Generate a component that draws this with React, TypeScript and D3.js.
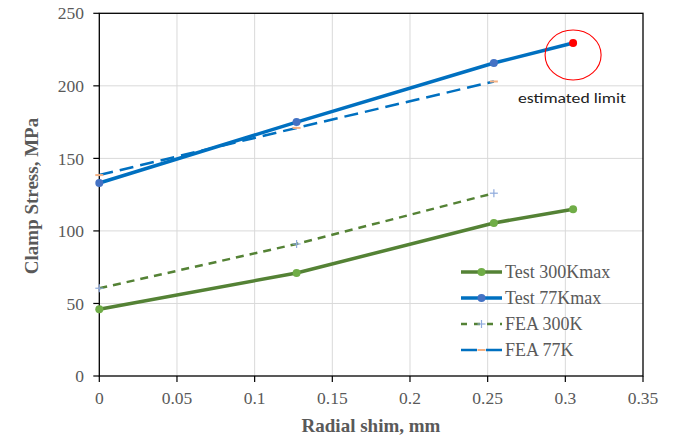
import React from "react";
import * as d3 from "d3";

const shimX = [0, 0.127, 0.254, 0.305];
const test300K = [46, 71, 105.5, 115];
const test77K = [133, 175, 215.7, 229.5];
const feaX = [0, 0.127, 0.254];
const fea300K = [60.5, 91, 126];
const fea77K = [138.5, 171, 203];
const xTicks = [0, 0.05, 0.1, 0.15, 0.2, 0.25, 0.3, 0.35];
const yTicks = [0, 50, 100, 150, 200, 250];
const legendLabels = ["Test 300Kmax", "Test 77Kmax", "FEA 300K", "FEA 77K"];

const W = 673, H = 440;
const L = 99.3, R = 643, T = 13.3, B = 376;
const serif = "'Liberation Serif', 'Times New Roman', serif";
const gray = "#595959";

export default function App() {
  const x = d3.scaleLinear().domain([0, 0.35]).range([L, R]);
  const y = d3.scaleLinear().domain([0, 250]).range([B, T]);
  const line = d3.line<[number, number]>().x(d => x(d[0])).y(d => y(d[1]));
  const pts = (xs: number[], ys: number[]) => xs.map((v, i) => [v, ys[i]] as [number, number]);

  const legendY = [272, 298, 324, 350];
  const lx0 = 461, lx1 = 502;

  return (
    <svg width={W} height={H} style={{ position: "absolute", left: 0, top: 0, background: "#fff" }}>
      {xTicks.slice(1, -1).map(t => (
        <line key={"gx" + t} x1={x(t)} x2={x(t)} y1={T} y2={B} stroke="#d9d9d9" strokeWidth={1} />
      ))}
      {yTicks.slice(1, -1).map(t => (
        <line key={"gy" + t} x1={L} x2={R} y1={y(t)} y2={y(t)} stroke="#d9d9d9" strokeWidth={1} />
      ))}
      <rect x={L} y={T} width={R - L} height={B - T} fill="none" stroke="#000" strokeWidth={1.3} />
      {yTicks.map(t => (
        <g key={"ty" + t}>
          <line x1={L - 6} x2={L} y1={y(t)} y2={y(t)} stroke="#000" strokeWidth={1.2} />
          <text x={84} y={y(t)} dy="0.35em" textAnchor="end" fontFamily={serif} fontSize={17.5} fill={gray}>{t}</text>
        </g>
      ))}
      {xTicks.map(t => (
        <g key={"tx" + t}>
          <line x1={x(t)} x2={x(t)} y1={B} y2={B + 6} stroke="#000" strokeWidth={1.2} />
          <text x={x(t)} y={404} textAnchor="middle" fontFamily={serif} fontSize={17.5} fill={gray}>{String(t)}</text>
        </g>
      ))}
      <text x={371} y={432} textAnchor="middle" fontFamily={serif} fontWeight="bold" fontSize={19} fill={gray}>Radial shim, mm</text>
      <text transform={`translate(38,196) rotate(-90)`} textAnchor="middle" fontFamily={serif} fontWeight="bold" fontSize={19} fill={gray}>Clamp Stress, MPa</text>

      <path d={line(pts(feaX, fea300K)) || ""} fill="none" stroke="#548235" strokeWidth={2.5} strokeDasharray="8,6" />
      <path d={line(pts(feaX, fea77K)) || ""} fill="none" stroke="#0070C0" strokeWidth={2.5} strokeDasharray="14,7" />
      <path d={line(pts(shimX, test300K)) || ""} fill="none" stroke="#548235" strokeWidth={3.5} />
      <path d={line(pts(shimX, test77K)) || ""} fill="none" stroke="#0070C0" strokeWidth={3.5} />
      {pts(feaX, fea300K).map((d, i) => (
        <g key={"p3" + i} stroke="#8FAADC" strokeWidth={1.2}>
          <line x1={x(d[0]) - 4} x2={x(d[0]) + 4} y1={y(d[1])} y2={y(d[1])} />
          <line x1={x(d[0])} x2={x(d[0])} y1={y(d[1]) - 4} y2={y(d[1]) + 4} />
        </g>
      ))}
      {pts(feaX, fea77K).map((d, i) => (
        <line key={"p7" + i} x1={x(d[0]) - 4} x2={x(d[0]) + 4} y1={y(d[1])} y2={y(d[1])} stroke="#F4B183" strokeWidth={2} />
      ))}
      {pts(shimX, test300K).map((d, i) => (
        <circle key={"t3" + i} cx={x(d[0])} cy={y(d[1])} r={4} fill="#70AD47" />
      ))}
      {pts(shimX, test77K).map((d, i) => (
        <circle key={"t7" + i} cx={x(d[0])} cy={y(d[1])} r={4} fill={i === shimX.length - 1 ? "#FF0000" : "#4472C4"} />
      ))}
      <ellipse cx={x(shimX[3])} cy={55} rx={28} ry={25} fill="none" stroke="#FF0000" strokeWidth={1.1} />
      <text x={518} y={103} textLength={108} lengthAdjust="spacingAndGlyphs" fontFamily="'Carlito', 'Open Sans', 'Liberation Sans', sans-serif" fontSize={15} fill="#222">estimated limit</text>

      <g>
        <line x1={lx0} x2={lx1} y1={legendY[0]} y2={legendY[0]} stroke="#548235" strokeWidth={3.5} />
        <circle cx={(lx0 + lx1) / 2} cy={legendY[0]} r={4} fill="#70AD47" />
        <line x1={lx0} x2={lx1} y1={legendY[1]} y2={legendY[1]} stroke="#0070C0" strokeWidth={3.5} />
        <circle cx={(lx0 + lx1) / 2} cy={legendY[1]} r={4} fill="#4472C4" />
        <line x1={lx0} x2={lx1} y1={legendY[2]} y2={legendY[2]} stroke="#548235" strokeWidth={2.5} strokeDasharray="6,7" />
        <g stroke="#8FAADC" strokeWidth={1.2}>
          <line x1={(lx0 + lx1) / 2 - 4} x2={(lx0 + lx1) / 2 + 4} y1={legendY[2]} y2={legendY[2]} />
          <line x1={(lx0 + lx1) / 2} x2={(lx0 + lx1) / 2} y1={legendY[2] - 4} y2={legendY[2] + 4} />
        </g>
        <line x1={lx0} x2={lx1} y1={legendY[3]} y2={legendY[3]} stroke="#0070C0" strokeWidth={2.5} strokeDasharray="16,9" />
        <line x1={(lx0 + lx1) / 2 - 4} x2={(lx0 + lx1) / 2 + 4} y1={legendY[3]} y2={legendY[3]} stroke="#F4B183" strokeWidth={2} />
        {legendLabels.map((s, i) => (
          <text key={s} x={505} y={legendY[i]} dy="0.35em" fontFamily={serif} fontSize={18} fill={gray}>{s}</text>
        ))}
      </g>
    </svg>
  );
}
